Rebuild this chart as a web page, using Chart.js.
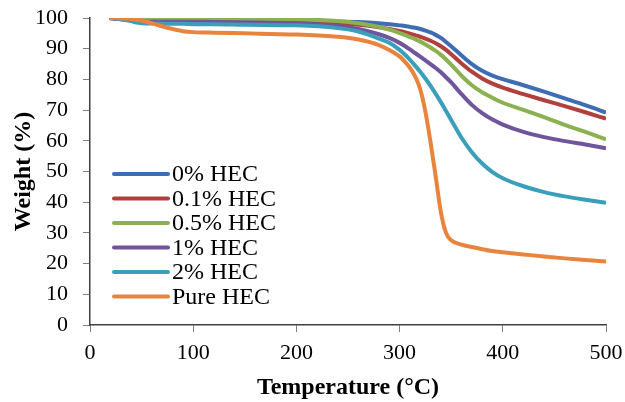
<!DOCTYPE html>
<html>
<head>
<meta charset="utf-8">
<script src="https://cdn.jsdelivr.net/npm/chart.js@4.4.1/dist/chart.umd.min.js"></script>
<style>
  html, body { margin: 0; padding: 0; background: #fff; }
  #wrap { width: 625px; height: 402px; }
</style>
</head>
<body>
<div id="wrap"><canvas id="tga" width="625" height="402"></canvas></div>
<script>
// temperature (°C) sample points
const temps = [19, 30, 40, 45, 50, 60, 70, 80, 90, 100, 120, 150, 200, 240, 260, 280, 290, 300, 305, 310, 315, 320, 325, 330, 335, 340, 345, 350, 360, 370, 380, 390, 400, 420, 440, 460, 480, 500];

// weight (%) for each sample
const hec0   = [100, 99.8, 99.7, 99.6, 99.5, 99.5, 99.4, 99.4, 99.4, 99.4, 99.3, 99.2, 99.1, 98.9, 98.7, 98.3, 98.0, 97.6, 97.4, 97.1, 96.8, 96.4, 95.9, 95.3, 94.5, 93.5, 92.2, 90.8, 87.8, 85.0, 82.8, 81.2, 80.1, 78.1, 76.0, 73.8, 71.6, 69.2];
const hec01  = [100, 99.7, 99.4, 99.2, 99.1, 99.0, 99.0, 99.0, 99.0, 99.0, 98.9, 98.8, 98.6, 98.2, 97.8, 97.0, 96.4, 95.8, 95.4, 94.9, 94.4, 93.9, 93.3, 92.6, 91.8, 90.8, 89.6, 88.2, 85.2, 82.5, 80.3, 78.6, 77.3, 75.2, 73.2, 71.3, 69.3, 67.2];
const hec05  = [100, 99.9, 99.9, 99.8, 99.8, 99.8, 99.8, 99.8, 99.8, 99.8, 99.8, 99.7, 99.6, 99.0, 98.3, 97.1, 96.2, 95.1, 94.5, 93.8, 93.1, 92.3, 91.4, 90.4, 89.3, 88.0, 86.5, 84.8, 81.2, 78.1, 75.8, 74.0, 72.4, 70.1, 67.7, 65.2, 62.9, 60.5];
const hec1   = [100, 99.6, 99.2, 99.0, 98.9, 98.8, 98.8, 98.8, 98.8, 98.8, 98.7, 98.6, 98.3, 97.4, 96.4, 94.7, 93.5, 91.9, 90.9, 89.8, 88.6, 87.4, 86.2, 85.0, 83.7, 82.3, 80.7, 79.0, 75.2, 71.7, 69.0, 66.9, 65.3, 62.9, 61.2, 59.9, 58.8, 57.6];
const hec2   = [100, 99.6, 99.0, 98.5, 98.3, 98.2, 98.2, 98.1, 98.1, 98.0, 98.0, 97.8, 97.6, 96.7, 95.6, 93.3, 91.9, 89.6, 88.1, 86.4, 84.5, 82.5, 80.3, 77.9, 75.3, 72.6, 69.7, 66.8, 61.0, 56.3, 52.6, 49.8, 47.8, 45.2, 43.3, 41.9, 40.8, 39.8];
const pureHec = [100, 99.9, 99.7, 99.4, 99.2, 98.3, 97.3, 96.4, 95.7, 95.4, 95.2, 95.0, 94.6, 93.9, 93.0, 91.2, 89.6, 87.5, 85.8, 83.8, 81.0, 76.8, 69.5, 59.5, 48.3, 36.8, 30.0, 27.6, 26.2, 25.4, 24.7, 24.1, 23.7, 23.0, 22.3, 21.7, 21.2, 20.7];

const labels = ["0% HEC", "0.1% HEC", "0.5% HEC", "1% HEC", "2% HEC", "Pure HEC"];
const colors = ["#3F6DB4", "#B0403D", "#8CB151", "#6F559B", "#3A9FBA", "#E8843E"];
const series = [hec0, hec01, hec05, hec1, hec2, pureHec];

const serif = "'Liberation Serif', 'Times New Roman', serif";

// legend sits inside the plot on the left, drawn by hand
const insideLegend = {
  id: "insideLegend",
  afterDraw(chart) {
    const ctx = chart.ctx;
    ctx.save();
    ctx.font = "24px " + serif;
    ctx.textBaseline = "middle";
    ctx.fillStyle = "#000";
    chart.data.datasets.forEach((ds, i) => {
      const y = 174 + i * 24.5;
      ctx.strokeStyle = ds.borderColor;
      ctx.lineWidth = 4;
      ctx.lineCap = "round";
      ctx.beginPath();
      ctx.moveTo(114, y);
      ctx.lineTo(168, y);
      ctx.stroke();
      ctx.fillText(ds.label, 172, y + 1);
    });
    ctx.restore();
  }
};

new Chart(document.getElementById("tga"), {
  type: "line",
  data: {
    datasets: series.map((vals, i) => ({
      label: labels[i],
      data: temps.map((t, j) => ({ x: t, y: vals[j] })),
      borderColor: colors[i],
      backgroundColor: colors[i],
      borderWidth: 4,
      pointRadius: 0,
      cubicInterpolationMode: "monotone",
      order: series.length - i
    }))
  },
  options: {
    responsive: false,
    animation: false,
    layout: { padding: { left: 0, top: 18, right: 19, bottom: 0 } },
    plugins: { legend: { display: false }, tooltip: { enabled: false } },
    scales: {
      x: {
        type: "linear",
        min: 0, max: 500,
        afterFit: (s) => { s.height = 77; s.paddingLeft = 0; s.paddingRight = 0; },
        ticks: { stepSize: 100, color: "#000", padding: 8, font: { family: serif, size: 22 } },
        grid: { drawOnChartArea: false, drawTicks: true, tickLength: 7, color: "#808080" },
        border: { color: "#404040", width: 1.5 },
        title: { display: true, text: "Temperature (°C)", color: "#000", padding: { top: 0, bottom: 0 },
                 font: { family: serif, size: 24, weight: "bold" } }
      },
      y: {
        min: 0, max: 100,
        afterFit: (s) => { s.width = 90; s.paddingTop = 0; s.paddingBottom = 0; },
        ticks: { stepSize: 10, color: "#000", padding: 15, font: { family: serif, size: 22 } },
        grid: { drawOnChartArea: false, drawTicks: true, tickLength: 7, color: "#808080" },
        border: { color: "#404040", width: 1.5 },
        title: { display: true, text: "Weight (%)", color: "#000", padding: { top: 9, bottom: 0 },
                 font: { family: serif, size: 24, weight: "bold" } }
      }
    }
  },
  plugins: [insideLegend]
});
</script>
</body>
</html>
